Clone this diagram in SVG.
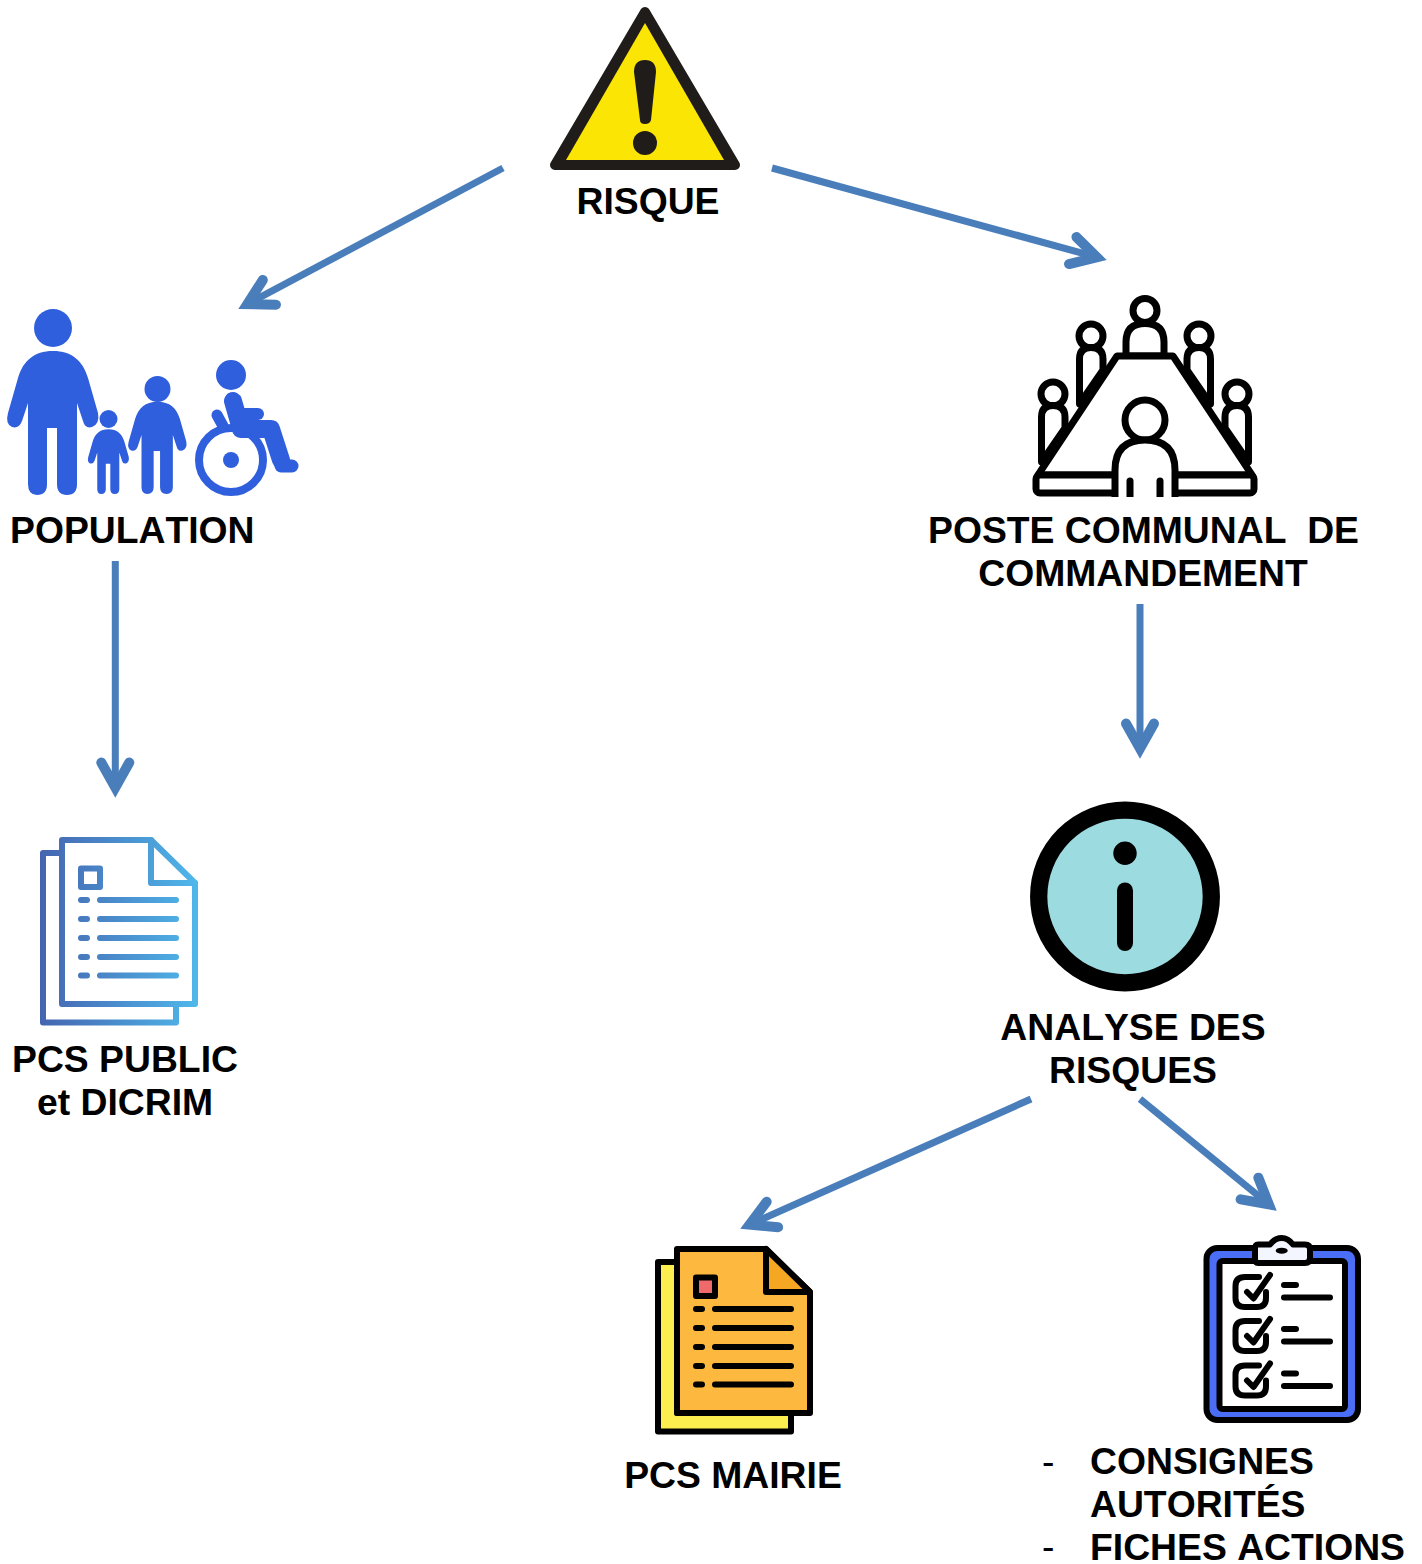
<svg xmlns="http://www.w3.org/2000/svg" width="1422" height="1564" viewBox="0 0 1422 1564">
<style>
text{font-family:"Liberation Sans",Arial,sans-serif;font-weight:700;font-size:37.3px;fill:#000;white-space:pre;font-kerning:none}
.m{text-anchor:middle}
.dash{font-weight:400}
.arrow{fill:none;stroke:#4a7ebb;stroke-width:7;marker-end:url(#head)}
.k{stroke:#000;stroke-width:6;stroke-linecap:round;stroke-linejoin:round}
.t{stroke:#000;stroke-width:7;stroke-linecap:round;stroke-linejoin:round}
.n{fill:none}
.w{fill:#fff}
.b{fill:none;stroke:url(#blue);stroke-width:6;stroke-linecap:round;stroke-linejoin:round}
.pop{fill:#2f5fdc}
.wheel{fill:none;stroke:#2f5fdc;stroke-linecap:round;stroke-linejoin:round}
</style>
<defs>
<marker id="head" markerUnits="userSpaceOnUse" markerWidth="60" markerHeight="60" refX="40" refY="30" orient="auto" viewBox="0 0 60 60">
<path d="M13.500,16 L38.500,30 L13.500,44" fill="none" stroke="#4a7ebb" stroke-width="10" stroke-linecap="round" stroke-linejoin="miter"/>
</marker>
<linearGradient id="blue" gradientUnits="userSpaceOnUse" x1="40" y1="0" x2="198" y2="0">
<stop offset="0" stop-color="#4564b0"/><stop offset="1" stop-color="#4fb8ea"/>
</linearGradient>
<path id="person" d="M53,351 C72,351 83,361 88,378 L98,413 Q100,424 92,427 Q85,429 83,421 L77,403 L77,484 Q77,495 67,495 Q57,495 57,484 L57,428 L47,428 L47,484 Q47,495 37,495 Q28,495 28,484 L28,403 L22,421 Q19,429 12,427 Q5,424 8,413 L18,378 C23,361 34,351 53,351Z"/>
<g id="check">
<path class="k n" d="M1259,1277 H1245 Q1235.500,1277 1235.500,1286 V1298 Q1235.500,1307 1245,1307 H1257 Q1266,1307 1266,1298 V1292"/>
<path class="k n" d="M1247,1292 L1253.500,1298.500 L1270,1275"/>
<path class="k n" d="M1284,1285 H1296 M1284,1297.500 H1330"/>
</g>
<g id="sideperson">
<circle class="t w" cx="1053" cy="394" r="12"/>
<path class="t w" d="M1041.500,462 V417 Q1041.500,405.500 1053,405.500 Q1065,405.500 1065,417 V428 Z"/>
</g>
<clipPath id="cutTable"><rect x="1020" y="285" width="250" height="212"/></clipPath>
<clipPath id="cutWheel"><rect x="180" y="350" width="125" height="147"/></clipPath>
</defs>
<rect width="1422" height="1564" fill="#fff"/>
<g id="connectors">
<path class="arrow" d="M503,168 L246,304.800"/>
<path class="arrow" d="M772,168 L1098.300,257.600"/>
<path class="arrow" d="M115.300,561 V789"/>
<path class="arrow" d="M1140,604 V750"/>
<path class="arrow" d="M1031,1099 L748.200,1225.300"/>
<path class="arrow" d="M1140,1099 L1270,1205.300"/>
</g>
<g id="risque">
<path d="M645,12 L555,165 H735 Z" fill="#1f1c1a" stroke="#1f1c1a" stroke-width="10" stroke-linejoin="round"/>
<path d="M645,23 L566,160 H724 Z" fill="#fbe505"/>
<path d="M634,72 Q634,60 645,60 Q656,60 656,72 L651,120 Q650,124 645,124 Q640,124 640,120 Z" fill="#1f1c1a"/>
<circle cx="645" cy="143" r="12" fill="#1f1c1a"/>
<text class="m" x="648" y="214">RISQUE</text>
</g>
<g id="population">
<circle class="pop" cx="53" cy="328" r="19"/>
<use class="pop" href="#person"/>
<circle class="pop" cx="108.500" cy="419" r="9"/>
<use class="pop" href="#person" transform="translate(108.500,494) scale(.45) translate(-53,-495)"/>
<circle class="pop" cx="157.500" cy="389" r="13"/>
<use class="pop" href="#person" transform="translate(157.500,494) scale(.64) translate(-53,-495)"/>
<g clip-path="url(#cutWheel)">
<circle class="pop" cx="231" cy="375" r="15"/>
<circle class="wheel" cx="231" cy="460" r="32" stroke-width="8"/>
<circle class="pop" cx="231" cy="460" r="8"/>
<path class="wheel" stroke-width="18" d="M233,401 L241,429 H271 L281,460"/>
<path class="wheel" stroke-width="13" d="M281,466 H292"/>
<path class="wheel" stroke-width="12" d="M240,414 H258"/>
<path class="wheel" stroke-width="11" d="M217,415 L223,426"/>
</g>
<text x="10" y="543">POPULATION</text>
</g>
<g id="poste-commandement">
<g clip-path="url(#cutTable)">
<use href="#sideperson"/>
<use href="#sideperson" transform="translate(38,-58)"/>
<use href="#sideperson" transform="matrix(-1 0 0 1 2290 0)"/>
<use href="#sideperson" transform="matrix(-1 0 0 1 2252 -58)"/>
<circle class="t w" cx="1145" cy="310.500" r="12"/>
<path class="t w" d="M1126,356 V342 Q1126,323.500 1145,323.500 Q1164,323.500 1164,342 V356 Z"/>
<path class="t w" d="M1117,356 H1173 L1252,475 H1038 Z"/>
<rect class="t w" x="1036" y="475" width="218" height="18" rx="4"/>
<circle class="t w" cx="1145" cy="420" r="20"/>
<path class="t w" d="M1115,505 V470 Q1115,440 1145,440 Q1175,440 1175,470 V505 Z"/>
<path class="t n" d="M1130,481 V505 M1160,481 V505"/>
</g>
<text x="928" y="543">POSTE COMMUNAL  DE</text>
<text class="m" x="1143" y="586">COMMANDEMENT</text>
</g>
<g id="pcs-public">
<path class="b" d="M62,853 H43 V1022.500 H176 V1004"/>
<path class="b" d="M62,840 H151 L195,883 V1004 H62 Z"/>
<path class="b" d="M151,840 V883 H195"/>
<rect class="b" x="81" y="868.500" width="19" height="18.500"/>
<path class="b" d="M81,900 H87 M100,900 H176 M81,919 H87 M100,919 H176 M81,938 H87 M100,938 H176 M81,957 H87 M100,957 H176 M81,975.500 H87 M100,975.500 H176"/>
<text class="m" x="125" y="1072">PCS PUBLIC</text>
<text class="m" x="125" y="1115">et DICRIM</text>
</g>
<g id="analyse">
<circle cx="1125" cy="896.500" r="86.300" fill="#9cdbe0" stroke="#000" stroke-width="17.300"/>
<circle cx="1125" cy="853.300" r="11.700" fill="#000"/>
<path d="M1125,890.500 V943" stroke="#000" stroke-width="16" stroke-linecap="round"/>
<text class="m" x="1133" y="1040">ANALYSE DES</text>
<text class="m" x="1133" y="1083">RISQUES</text>
</g>
<g id="pcs-mairie">
<path class="k" fill="#fdee50" d="M677,1262 H658 V1431.500 H791 V1413 H677 Z"/>
<path class="k" fill="#fdb93f" d="M677,1249 H766 L810,1292 V1413 H677 Z"/>
<path class="k" fill="#f5a623" d="M766,1249 V1292 H810 Z"/>
<rect class="k" fill="#ef6a6a" x="696" y="1277.500" width="19" height="18.500"/>
<path class="k n" d="M696,1309 H702 M715,1309 H791 M696,1328 H702 M715,1328 H791 M696,1347 H702 M715,1347 H791 M696,1366 H702 M715,1366 H791 M696,1384.500 H702 M715,1384.500 H791"/>
<text class="m" x="733" y="1488">PCS MAIRIE</text>
</g>
<g id="consignes">
<rect class="k" fill="#4a6ef5" x="1206.500" y="1248" width="151.500" height="172" rx="11"/>
<rect class="k w" x="1219.500" y="1261" width="125.500" height="148" rx="3"/>
<path class="k" fill="#f3f5ff" d="M1258,1244.500 H1270 Q1275,1238 1281.700,1238 Q1288,1238 1293,1244.500 H1305 Q1310,1244.500 1310,1249 V1258 Q1310,1263 1305,1263 H1258 Q1255,1263 1255,1258 V1249 Q1255,1244.500 1258,1244.500 Z"/>
<ellipse cx="1281.700" cy="1250.700" rx="6" ry="3" fill="#000"/>
<use href="#check"/>
<use href="#check" transform="translate(0,44)"/>
<use href="#check" transform="translate(0,88.500)"/>
<text class="dash" x="1042" y="1474">-</text>
<text x="1090" y="1473.500">CONSIGNES</text>
<text x="1090" y="1516.500">AUTORITÉS</text>
<text class="dash" x="1042" y="1559">-</text>
<text x="1090" y="1559.500">FICHES ACTIONS</text>
</g>
</svg>
